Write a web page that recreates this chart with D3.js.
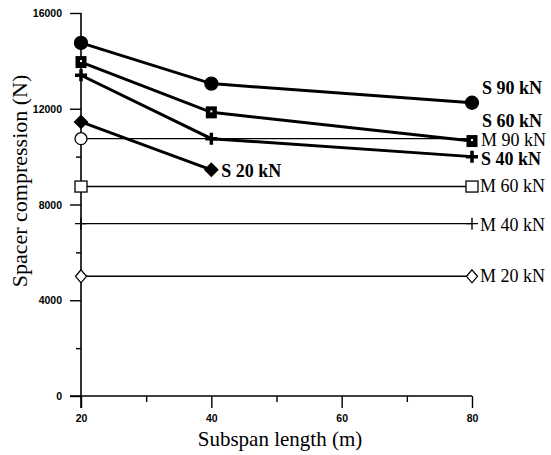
<!DOCTYPE html>
<html>
<head>
<meta charset="utf-8">
<script src="https://cdn.jsdelivr.net/npm/d3@7"></script>
<style>
  body { margin: 0; background: #fff; }
</style>
</head>
<body>
<div id="chart"></div>
<script>
// subspan lengths (m)
const sSpans = [20, 40, 80];
const s20Spans = [20, 40];
const mSpans = [20, 80];

// spacer compression (N)
const s90 = [14750, 13050, 12250];
const s60 = [13950, 11850, 10650];
const s40 = [13400, 10750, 10000];
const s20 = [11450, 9450];
const m90 = [10750, 10750];
const m60 = [8750, 8750];
const m40 = [7200, 7200];
const m20 = [5000, 5000];

const seriesNames = ['M 20 kN', 'M 40 kN', 'M 60 kN', 'M 90 kN', 'S 20 kN', 'S 40 kN', 'S 60 kN', 'S 90 kN'];

const xTicks = [20, 40, 60, 80];
const xMinorTicks = [30, 50, 70];
const yTicks = [0, 4000, 8000, 12000, 16000];
const yMinorTicks = [2000, 6000, 10000, 14000];

const SERIF = "'Liberation Serif', 'Times New Roman', serif";
const SANS = "'Liberation Sans', Arial, sans-serif";

class SpacerChart {
  constructor(_config) {
    this.config = {
      parentElement: _config.parentElement,
      containerWidth: _config.containerWidth,
      containerHeight: _config.containerHeight,
    };
  }

  render() {
    const vis = this;

    vis.svg = d3.select(vis.config.parentElement).append('svg')
      .attr('width', vis.config.containerWidth)
      .attr('height', vis.config.containerHeight);

    vis.x = d3.scaleLinear().domain([20, 80]).range([81, 472]);
    vis.y = d3.scaleLinear().domain([0, 16000]).range([396, 13]);

    // axes
    const yAxis = d3.axisLeft(vis.y).tickValues(yTicks).tickSize(11).tickFormat(d3.format('d'));
    const yMinor = d3.axisLeft(vis.y).tickValues(yMinorTicks).tickSize(5).tickFormat('');
    const xAxis = d3.axisBottom(vis.x).tickValues(xTicks).tickSize(12).tickFormat(d3.format('d'));
    const xMinor = d3.axisBottom(vis.x).tickValues(xMinorTicks).tickSize(6).tickFormat('');

    const gy = vis.svg.append('g').attr('transform', `translate(${vis.x(20)},0)`).call(yAxis);
    vis.svg.append('g').attr('transform', `translate(${vis.x(20)},0)`).call(yMinor);
    const gx = vis.svg.append('g').attr('transform', `translate(0,${vis.y(0)})`).call(xAxis);
    vis.svg.append('g').attr('transform', `translate(0,${vis.y(0)})`).call(xMinor);

    vis.svg.selectAll('.domain').remove();
    vis.svg.selectAll('.tick line').attr('stroke', '#000').attr('stroke-width', 1.4);
    vis.svg.selectAll('.tick text')
      .style('font-family', SANS)
      .style('font-weight', 'bold')
      .style('font-size', '10.5px')
      .attr('fill', '#000');
    gy.selectAll('.tick text').attr('x', -19).attr('dy', '0.35em');
    gx.selectAll('.tick text').attr('y', 22).attr('dy', '0.35em');

    // axis lines
    vis.svg.append('line')
      .attr('x1', vis.x(20)).attr('x2', vis.x(20))
      .attr('y1', vis.y(16000)).attr('y2', vis.y(0) + 12)
      .attr('stroke', '#000').attr('stroke-width', 1.6);
    vis.svg.append('line')
      .attr('x1', vis.x(20) - 11).attr('x2', vis.x(80))
      .attr('y1', vis.y(0)).attr('y2', vis.y(0))
      .attr('stroke', '#000').attr('stroke-width', 1.6);

    vis.svg.append('text')
      .attr('x', 280).attr('y', 446)
      .attr('text-anchor', 'middle')
      .style('font-family', SERIF)
      .style('font-size', '21px')
      .text('Subspan length (m)');

    vis.svg.append('text')
      .attr('transform', 'translate(27,181) rotate(-90)')
      .attr('text-anchor', 'middle')
      .style('font-family', SERIF)
      .style('font-size', '22px')
      .text('Spacer compression (N)');

    // label offsets in px; "marks" lists which points get a marker
    const series = [
      { name: seriesNames[0], xs: mSpans, ys: m20, bold: false, marker: 'diamond', filled: false, marks: [0, 1], dx: 8, dy: 6 },
      { name: seriesNames[1], xs: mSpans, ys: m40, bold: false, marker: 'plus', filled: false, marks: [0, 1], dx: 8, dy: 7 },
      { name: seriesNames[2], xs: mSpans, ys: m60, bold: false, marker: 'square', filled: false, marks: [0, 1], dx: 8, dy: 5 },
      { name: seriesNames[3], xs: mSpans, ys: m90, bold: false, marker: 'circle', filled: false, marks: [0], dx: 9, dy: 7 },
      { name: seriesNames[4], xs: s20Spans, ys: s20, bold: true, marker: 'diamond', filled: true, marks: [0, 1], dx: 10, dy: 7 },
      { name: seriesNames[5], xs: sSpans, ys: s40, bold: true, marker: 'plus', filled: true, marks: [0, 1, 2], dx: 9, dy: 8 },
      { name: seriesNames[6], xs: sSpans, ys: s60, bold: true, marker: 'square', filled: true, marks: [0, 1, 2], dx: 10, dy: -14 },
      { name: seriesNames[7], xs: sSpans, ys: s90, bold: true, marker: 'circle', filled: true, marks: [0, 1, 2], dx: 10, dy: -9 },
    ];

    const line = d3.line().x((d) => vis.x(d[0])).y((d) => vis.y(d[1]));

    series.forEach((s) => {
      const pts = s.xs.map((x, i) => [x, s.ys[i]]);
      vis.svg.append('path')
        .datum(pts)
        .attr('d', line)
        .attr('fill', 'none')
        .attr('stroke', '#000')
        .attr('stroke-width', s.bold ? 3 : 1.4);
    });

    series.forEach((s) => {
      const pts = s.xs.map((x, i) => [x, s.ys[i]]);
      const g = vis.svg.append('g');
      s.marks.forEach((i) => {
        vis.drawMarker(g, s, vis.x(pts[i][0]), vis.y(pts[i][1]));
      });
      const last = pts[pts.length - 1];
      vis.svg.append('text')
        .attr('x', vis.x(last[0]) + s.dx)
        .attr('y', vis.y(last[1]) + s.dy)
        .style('font-family', SERIF)
        .style('font-size', '18px')
        .style('font-weight', s.bold ? 'bold' : 'normal')
        .text(s.name);
    });
  }

  drawMarker(g, s, cx, cy) {
    const fill = s.filled ? '#000' : '#fff';
    if (s.marker === 'circle') {
      g.append('circle').attr('cx', cx).attr('cy', cy).attr('r', s.filled ? 6.5 : 6)
        .attr('fill', fill).attr('stroke', '#000').attr('stroke-width', 1.3);
    } else if (s.marker === 'square') {
      if (s.filled) {
        g.append('rect').attr('x', cx - 5.5).attr('y', cy - 6).attr('width', 11).attr('height', 12)
          .attr('fill', '#000');
        g.append('rect').attr('x', cx - 1).attr('y', cy - 2).attr('width', 2).attr('height', 2)
          .attr('fill', '#fff');
      } else {
        g.append('rect').attr('x', cx - 6).attr('y', cy - 5.5).attr('width', 12).attr('height', 11)
          .attr('fill', fill).attr('stroke', '#000').attr('stroke-width', 1.3);
      }
    } else if (s.marker === 'diamond') {
      const rx = s.filled ? 6.5 : 5.5;
      const ry = 6.5;
      g.append('path')
        .attr('d', `M${cx},${cy - ry}L${cx + rx},${cy}L${cx},${cy + ry}L${cx - rx},${cy}Z`)
        .attr('fill', fill).attr('stroke', '#000').attr('stroke-width', 1.3);
    } else if (s.marker === 'plus') {
      const r = 6;
      g.append('path')
        .attr('d', `M${cx - r},${cy}H${cx + r}M${cx},${cy - r}V${cy + r}`)
        .attr('stroke', '#000').attr('stroke-width', s.filled ? 3.5 : 1.4);
    }
  }
}

const chart = new SpacerChart({ parentElement: '#chart', containerWidth: 551, containerHeight: 455 });
chart.render();
</script>
</body>
</html>
